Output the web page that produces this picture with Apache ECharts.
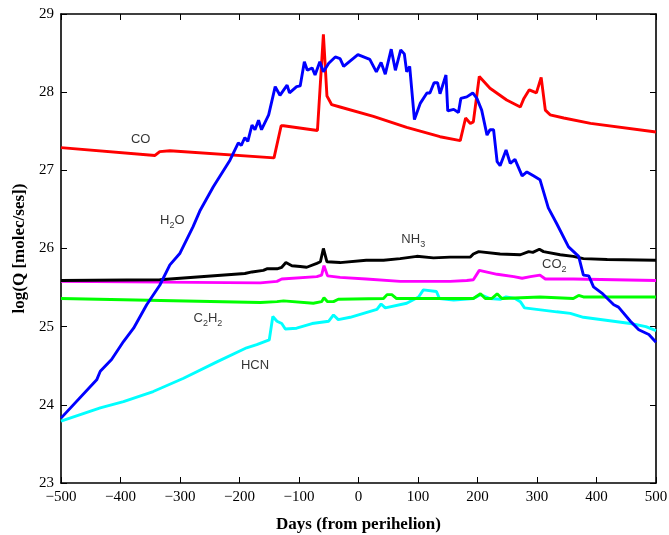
<!DOCTYPE html>
<html><head><meta charset="utf-8">
<script src="https://cdn.jsdelivr.net/npm/echarts@6/dist/echarts.min.js"></script>
<style>html,body{margin:0;padding:0;background:#fff}#c{width:669px;height:535px}</style>
</head><body><div id="c"></div>
<script>
// ---- data ----
const xTicks = [-500,-400,-300,-200,-100,0,100,200,300,400,500];
const yTicks = [23,24,25,26,27,28,29];

const h2oDays = [-500,-440,-434,-415,-395,-378,-356,-334,-317,-300,-278,-266,-244,-216,-202,-197,-191,-186,-179,-174,-168,-163,-151,-140,-132,-120,-116,-104,-98,-91,-86,-78,-73,-65,-59,-50,-39,-31,-25,-1,19,30,38,45,55,62,71,77,81,86,94,104,115,120,127,133,137,147,150,160,168,172,182,192,199,207,216,221,227,233,238,248,255,263,275,283,294,305,319,333,353,370,378,387,395,409,429,437,457,471,488,500];
const h2oQ = [23.83,24.32,24.43,24.58,24.81,24.98,25.28,25.53,25.79,25.94,26.28,26.49,26.79,27.13,27.35,27.32,27.42,27.37,27.58,27.52,27.64,27.52,27.71,28.07,27.96,28.09,27.99,28.07,28.08,28.39,28.28,28.31,28.22,28.39,28.26,28.37,28.45,28.43,28.33,28.48,28.42,28.26,28.38,28.23,28.55,28.28,28.54,28.49,28.26,28.33,27.65,27.86,27.99,27.99,28.12,28.12,27.98,28.22,27.76,27.78,27.74,27.92,27.94,27.99,27.92,27.77,27.45,27.52,27.52,27.11,27.06,27.26,27.09,27.14,26.93,26.98,26.93,26.88,26.52,26.32,26.02,25.90,25.66,25.65,25.51,25.43,25.28,25.25,25.07,24.96,24.90,24.80];

const coDays = [-500,-342,-334,-317,-142,-130,-126,-69,-59,-53,-45,-31,25,81,137,171,174,180,188,193,203,221,249,272,278,287,299,307,314,322,345,390,500];
const coQ = [27.29,27.19,27.24,27.25,27.16,27.57,27.57,27.51,28.74,27.95,27.84,27.81,27.69,27.55,27.43,27.38,27.40,27.67,27.60,27.62,28.20,28.05,27.90,27.81,27.92,28.03,27.99,28.19,27.77,27.71,27.67,27.60,27.49];

const nh3Days = [-500,-334,-191,-179,-160,-154,-137,-129,-122,-112,-98,-87,-70,-64,-59,-53,-31,13,42,70,98,126,154,188,193,202,238,272,286,293,304,311,339,361,378,418,500];
const nh3Q = [25.59,25.60,25.68,25.70,25.72,25.74,25.74,25.76,25.82,25.78,25.77,25.76,25.81,25.83,26.00,25.83,25.82,25.85,25.85,25.87,25.90,25.88,25.89,25.89,25.93,25.96,25.93,25.92,25.96,25.95,25.99,25.96,25.92,25.90,25.87,25.86,25.85];

const co2Days = [-500,-165,-137,-129,-70,-62,-58,-52,-31,13,70,154,182,193,203,233,261,275,289,305,314,361,500];
const co2Q = [25.58,25.56,25.58,25.61,25.64,25.66,25.78,25.65,25.63,25.61,25.58,25.58,25.59,25.60,25.72,25.67,25.64,25.62,25.64,25.66,25.61,25.61,25.59];

const c2h2Days = [-500,-165,-137,-126,-76,-62,-58,-52,-42,-34,42,48,56,64,154,193,205,213,224,233,241,305,361,370,378,500];
const c2h2Q = [25.36,25.31,25.32,25.33,25.30,25.32,25.37,25.32,25.32,25.35,25.36,25.41,25.41,25.36,25.36,25.36,25.42,25.36,25.36,25.42,25.36,25.38,25.36,25.40,25.38,25.38];

const hcnDays = [-500,-434,-395,-345,-294,-238,-188,-171,-150,-144,-137,-129,-123,-104,-78,-50,-42,-34,-14,31,38,45,81,101,109,131,136,160,193,205,221,238,248,263,272,279,333,356,378,457,483,500];
const hcnQ = [23.79,23.96,24.04,24.17,24.34,24.55,24.73,24.77,24.83,25.13,25.07,25.04,24.97,24.98,25.04,25.07,25.15,25.09,25.12,25.22,25.29,25.24,25.30,25.38,25.47,25.45,25.36,25.34,25.36,25.41,25.36,25.35,25.38,25.36,25.32,25.24,25.19,25.17,25.12,25.04,25.00,24.95];

const labelNames = ['CO','H2O','NH3','CO2','C2H2','HCN'];
const labelDays = [-366,-313,92,329,-253,-174];
const labelQ = [27.39,26.36,26.11,25.79,25.10,24.50];
const labelRich = ['{m|CO}','{m|H}{s|2}{m|O}','{m|NH}{s|3}','{m|CO}{s|2}','{m|C}{s|2}{m|H}{s|2}','{m|HCN}'];

// ---- chart ----
const zip = (a,b) => a.map((x,i)=>[x,b[i]]);
const serif = '"Liberation Serif","Times New Roman",serif';
const sans = '"Liberation Sans",Arial,Helvetica,sans-serif';
const fmtMinus = v => String(v).replace('-', '\u2212');

function line(name, days, q, color){
  return {type:'line', name, data:zip(days,q), showSymbol:false, symbol:'none',
    lineStyle:{color, width:2.9}, itemStyle:{color}, animation:false, z:3,
    xAxisIndex:0, yAxisIndex:0};
}

const chart = echarts.init(document.getElementById('c'), null, {renderer:'canvas'});
const axisCommon = {
  min:-500, max:500, interval:100, type:'value',
  axisLine:{show:true, onZero:false, lineStyle:{color:'#000', width:1.6}},
  axisTick:{show:true, inside:true, length:6, lineStyle:{color:'#000', width:1}},
  splitLine:{show:false}
};
const yCommon = {
  min:23, max:29, interval:1, type:'value',
  axisLine:{show:true, onZero:false, lineStyle:{color:'#000', width:1.6}},
  axisTick:{show:true, inside:true, length:6, lineStyle:{color:'#000', width:1}},
  splitLine:{show:false}
};
chart.setOption({
  backgroundColor:'#fff',
  animation:false,
  grid:{left:61, right:13, top:14, bottom:52, containLabel:false, outerBoundsMode:'none'},
  xAxis:[
    Object.assign({}, axisCommon, {position:'bottom',
      name:'Days (from perihelion)', nameLocation:'middle', nameGap:33,
      nameTextStyle:{fontFamily:serif, fontWeight:'bold', fontSize:17, color:'#000'},
      axisLabel:{show:true, margin:7, fontFamily:serif, fontSize:15, color:'#000', formatter:fmtMinus}}),
    Object.assign({}, axisCommon, {position:'top', axisLabel:{show:false}})
  ],
  yAxis:[
    Object.assign({}, yCommon, {position:'left',
      name:'log(Q [molec/ses])', nameLocation:'middle', nameGap:32, nameRotate:90,
      nameTextStyle:{fontFamily:serif, fontWeight:'bold', fontSize:17, color:'#000'},
      axisLabel:{show:true, margin:7, fontFamily:serif, fontSize:15, color:'#000'}}),
    Object.assign({}, yCommon, {position:'right', axisLabel:{show:false}})
  ],
  series:[
    line('CO', coDays, coQ, '#ff0000'),
    line('HCN', hcnDays, hcnQ, '#00ffff'),
    line('C2H2', c2h2Days, c2h2Q, '#00ff00'),
    line('CO2', co2Days, co2Q, '#ff00ff'),
    line('NH3', nh3Days, nh3Q, '#000000'),
    line('H2O', h2oDays, h2oQ, '#0000ff'),
    {type:'scatter', name:'labels', symbolSize:0, animation:false, silent:true, z:5,
      data: labelNames.map((n,i)=>({name:n, value:[labelDays[i], labelQ[i]],
        label:{show:true, position:'inside', formatter:labelRich[i],
          rich:{m:{fontFamily:sans, fontSize:13, color:'#000', lineHeight:16},
                s:{fontFamily:sans, fontSize:9, color:'#000', lineHeight:16, padding:[10,0,0,0]}}}}))
    }
  ]
});
</script></body></html>
